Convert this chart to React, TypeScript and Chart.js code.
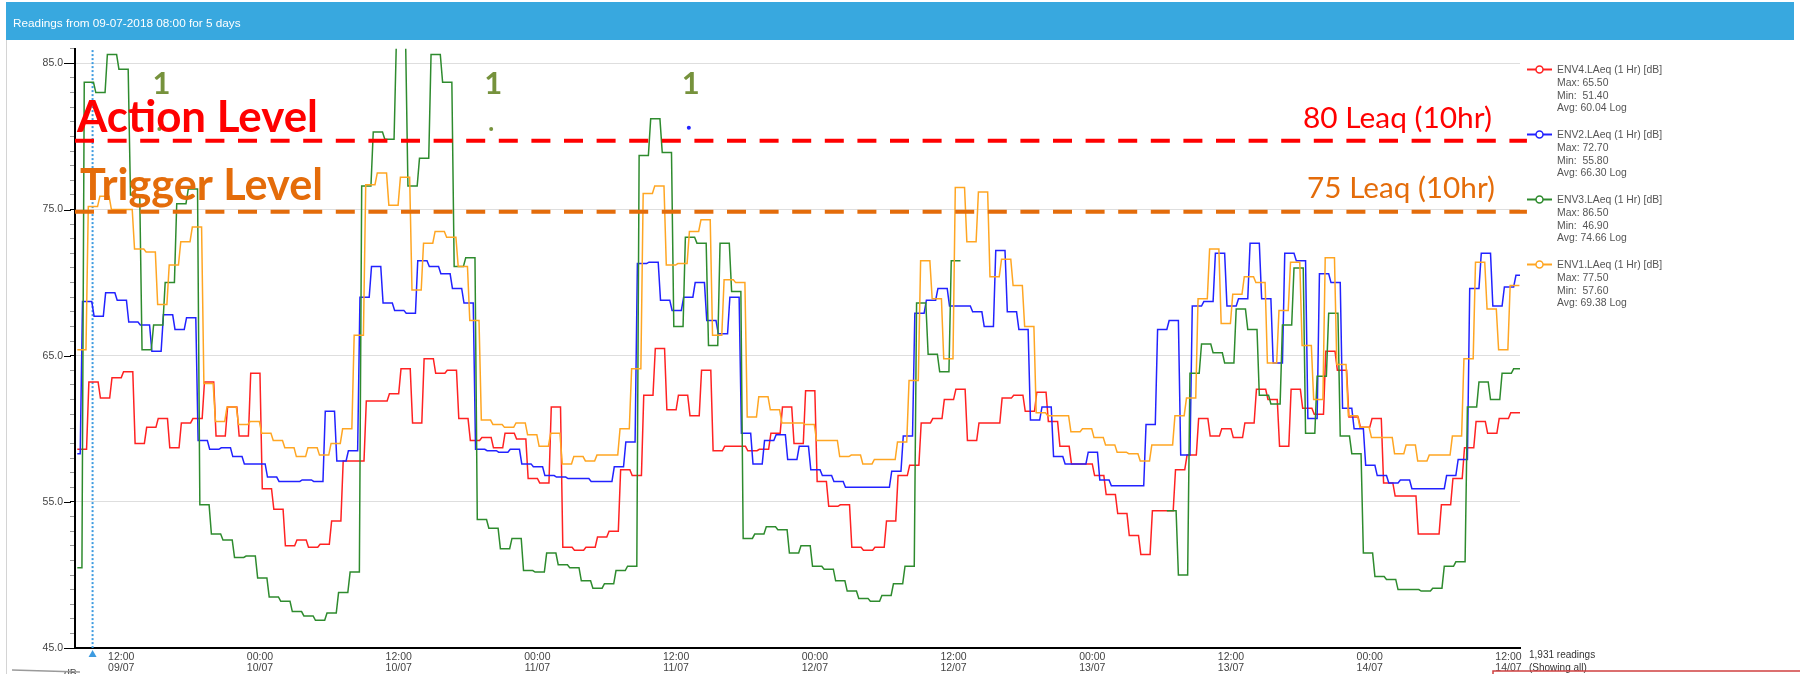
import React, { useEffect, useRef } from 'react';
import { Chart, registerables } from 'chart.js';

Chart.register(...registerables);

// ---------------- DATA ----------------
const titleText = 'Readings from 09-07-2018 08:00 for 5 days';

// hours since 09/07 08:00
const xTickHours = [4, 16, 28, 40, 52, 64, 76, 88, 100, 112, 124];
const xTickTimes = ['12:00', '00:00', '12:00', '00:00', '12:00', '00:00', '12:00', '00:00', '12:00', '00:00', '12:00'];
const xTickDates = ['09/07', '10/07', '10/07', '11/07', '11/07', '12/07', '12/07', '13/07', '13/07', '14/07', '14/07'];
const yMajorTicks = [45, 55, 65, 75, 85];

// ENV4 (red) hourly LAeq from hour 0
const env4Values = [
  58.6, 63.2, 62.1, 63.5, 63.9, 59.0, 60.1, 60.7, 58.7, 60.4, 60.7, 63.2, 59.5, 61.5, 59.5, 63.8, 55.9, 54.5, 52.0, 52.4,
  51.9, 52.1, 53.7, 57.8, 57.8, 61.9, 61.9, 62.4, 64.1, 60.4, 64.8, 63.8, 64.0, 60.7, 59.2, 59.4, 58.7, 59.7, 59.3, 56.6,
  56.3, 61.5, 51.9, 51.7, 51.9, 52.6, 53.0, 57.2, 56.8, 62.3, 65.5, 61.3, 62.3, 60.9, 64.0, 58.5, 58.8, 58.8, 58.5, 58.6,
  59.7, 61.5, 59.0, 62.6, 56.4, 54.7, 54.8, 51.9, 51.7, 51.9, 53.7, 56.8, 57.5, 60.4, 60.7, 62.0, 62.7, 59.2, 60.4, 60.4,
  62.1, 62.3, 61.2, 62.5, 60.5, 58.8, 57.6, 57.6, 56.8, 55.5, 54.2, 52.7, 51.4, 54.4, 54.4, 57.2, 58.2, 60.7, 59.5, 60.0,
  59.4, 60.4, 62.7, 62.0, 58.8, 62.7, 61.4, 61.0, 65.3, 64.0, 60.8, 60.1, 60.7, 56.3, 55.4, 55.4, 52.8, 52.8, 54.8, 56.6,
  58.7, 60.5, 59.7, 60.7, 61.1,
];

// ENV2 (blue)
const env2Values = [
  58.3, 68.7, 67.7, 69.3, 68.8, 67.3, 67.1, 65.3, 67.8, 66.8, 67.6, 59.2, 58.6, 58.7, 58.1, 57.6, 57.6, 56.7, 56.4, 56.4,
  56.5, 56.4, 61.2, 57.8, 58.5, 69.0, 71.1, 68.6, 68.1, 67.9, 71.5, 71.1, 70.6, 69.6, 68.6, 58.6, 58.5, 58.4, 58.6, 57.6,
  57.4, 56.8, 56.7, 56.6, 56.6, 56.4, 56.4, 57.4, 59.1, 71.3, 71.4, 68.8, 68.1, 69.0, 70.0, 67.4, 66.5, 69.0, 59.7, 57.6,
  59.2, 59.6, 57.9, 58.8, 57.2, 56.8, 56.4, 56.0, 56.0, 56.0, 56.0, 57.1, 59.5, 67.9, 68.8, 69.6, 68.4, 68.4, 68.0, 67.0,
  72.2, 68.0, 66.8, 60.6, 61.5, 58.1, 57.6, 57.6, 58.4, 56.5, 56.1, 56.1, 56.1, 60.3, 66.8, 67.4, 58.2, 68.4, 68.7, 72.0,
  68.4, 68.9, 72.7, 68.9, 64.5, 72.0, 71.5, 60.7, 70.6, 70.0, 61.4, 60.0, 57.5, 56.8, 56.3, 56.5, 55.9, 55.9, 55.9, 56.8,
  57.9, 69.6, 72.0, 68.4, 69.7, 70.5,
];

// ENV3 (green) first run, from hour 0
const env3FirstValues = [
  50.5, 83.7, 83.0, 85.6, 84.6, 76.0, 65.4, 67.1, 70.0, 75.4, 76.4, 54.8, 52.8, 52.4, 51.2, 51.3, 49.8, 48.5, 48.2, 47.5,
  47.2, 46.9, 47.4, 48.8, 50.2, 76.6, 80.3, 79.8, 86.5, 76.6, 78.5, 85.6, 83.7, 71.1, 71.7, 53.8, 53.2, 51.8, 52.5, 50.3,
  50.2, 51.5, 50.7, 50.5, 49.6, 49.1, 49.4, 50.3, 50.6, 78.7, 81.2, 78.9, 67.0, 73.1, 72.7, 65.7, 72.7, 69.4, 52.5, 52.8,
  53.3, 53.1, 51.5, 52.0, 50.6, 50.4, 49.6, 48.9, 48.4, 48.2, 48.6, 49.4, 50.6, 68.6, 65.1, 63.9, 71.5,
];
// ENV3 (green) second run, from hour 94
const env3SecondStartHour = 94;
const env3SecondValues = [
  54.4, 50.0, 63.8, 65.8, 65.2, 64.5, 68.2, 66.8, 62.3, 61.7, 67.1, 71.0, 59.7, 63.6, 67.9, 59.5, 58.3, 51.5, 49.9, 49.7,
  49.0, 49.0, 48.9, 49.1, 50.6, 50.9, 61.5, 63.2, 62.0, 63.8, 64.1,
];

// ENV1 (orange)
const env1Values = [
  65.4, 75.2, 75.9, 75.0, 75.0, 72.3, 72.1, 68.5, 71.2, 72.8, 73.8, 63.1, 60.5, 61.5, 60.3, 60.5, 59.7, 59.2, 58.7, 58.1,
  58.7, 58.2, 59.0, 60.0, 66.4, 76.7, 77.5, 75.3, 77.2, 69.5, 72.7, 73.5, 73.1, 71.1, 67.4, 60.6, 60.3, 60.1, 60.4, 59.6,
  58.8, 59.7, 57.6, 58.1, 57.8, 58.2, 58.2, 60.0, 64.1, 76.1, 76.6, 71.2, 71.3, 73.5, 74.3, 66.4, 70.2, 70.0, 60.8, 62.2,
  61.3, 60.4, 60.4, 60.3, 59.2, 59.2, 58.1, 58.2, 57.6, 57.9, 57.9, 59.1, 63.3, 71.5, 68.9, 64.8, 76.5, 72.8, 76.2, 70.4,
  71.6, 69.8, 67.0, 61.1, 60.9, 60.9, 59.8, 60.0, 59.4, 58.9, 58.4, 58.3, 57.8, 58.9, 58.9, 60.9, 62.1, 68.9, 72.3, 67.2,
  69.2, 70.4, 70.0, 64.5, 68.1, 71.4, 65.7, 62.0, 71.7, 64.4, 60.9, 60.1, 59.4, 59.4, 58.3, 58.9, 57.8, 58.2, 58.2, 59.5,
  64.8, 71.4, 68.2, 65.4, 69.8,
];

// Level lines (as drawn) and their labels
const actionLineDb = 79.7;
const triggerLineDb = 74.85;
const levelLineEndHour = 125.6;

// annotation markers
const markerHours = [7.3, 36.0, 53.1];
const markerValues = [80.5, 80.5, 80.6];
const markerLabelValue = 83.6;
const cursorHour = 1.52;

// legend
const legendNames = ['ENV4.LAeq (1 Hr) [dB]', 'ENV2.LAeq (1 Hr) [dB]', 'ENV3.LAeq (1 Hr) [dB]', 'ENV1.LAeq (1 Hr) [dB]'];
const legendMax = ['65.50', '72.70', '86.50', '77.50'];
const legendMin = ['51.40', '55.80', '46.90', '57.60'];
const legendAvg = ['60.04', '66.30', '74.66', '69.38'];

// ---------------- STYLE ----------------
const RED = '#ff2222';
const BLUE = '#2222ff';
const GREEN = '#2e8b2e';
const ORANGE = '#ffa623';
const legendColors = [RED, BLUE, GREEN, ORANGE];
const ACTION_RED = '#ff0000';
const TRIGGER_ORANGE = '#e46c0a';
const OLIVE = '#76923c';
const dataStartHour = 0.2;

function stepPoints(values: (number | null)[], firstHour: number, phase: number) {
  const pts: { x: number; y: number | null }[] = [];
  values.forEach((v, i) => {
    const k = firstHour + i;
    if (v === null) {
      pts.push({ x: k + phase, y: null });
      return;
    }
    pts.push({ x: Math.max(dataStartHour, k + phase), y: v });
    const next = values[i + 1];
    if (next !== null) pts.push({ x: k + phase + 0.8, y: v });
  });
  return pts;
}

function fitFont(ctx: CanvasRenderingContext2D, text: string, weight: string, family: string, target: number) {
  ctx.font = `${weight} 100px ${family}`;
  const w = ctx.measureText(text).width;
  return `${weight} ${(100 * target) / w}px ${family}`;
}

const overlayPlugin = {
  id: 'overlay',
  beforeDraw(chart: any) {
    const ctx = chart.ctx as CanvasRenderingContext2D;
    ctx.save();
    ctx.fillStyle = '#ffffff';
    ctx.fillRect(0, 0, 1800, 674);
    ctx.fillStyle = '#38a8df';
    ctx.fillRect(6, 2, 1788, 38);
    ctx.strokeStyle = '#d4d4d4';
    ctx.lineWidth = 1;
    ctx.beginPath();
    ctx.moveTo(6.5, 40);
    ctx.lineTo(6.5, 674);
    ctx.stroke();
    ctx.fillStyle = '#ffffff';
    ctx.textBaseline = 'alphabetic';
    ctx.textAlign = 'left';
    ctx.font = fitFont(ctx, titleText, 'normal', '"Liberation Sans", Arial, sans-serif', 228);
    ctx.fillText(titleText, 13, 27);
    ctx.restore();
  },
  afterDatasetsDraw(chart: any) {
    const ctx = chart.ctx as CanvasRenderingContext2D;
    const xs = chart.scales.x;
    const ys = chart.scales.y;
    ctx.save();
    ctx.textBaseline = 'alphabetic';
    const fam = 'Lato, "Open Sans", sans-serif';
    ctx.textAlign = 'left';
    ctx.fillStyle = ACTION_RED;
    ctx.font = fitFont(ctx, 'Action Level', 'bold', fam, 241);
    ctx.fillText('Action Level', 77, 132);
    ctx.fillStyle = TRIGGER_ORANGE;
    ctx.font = fitFont(ctx, 'Trigger Level', 'bold', fam, 243);
    ctx.fillText('Trigger Level', 80, 200);
    ctx.textAlign = 'right';
    ctx.fillStyle = ACTION_RED;
    ctx.font = fitFont(ctx, '80 Leaq (10hr)', 'normal', fam, 189);
    ctx.fillText('80 Leaq (10hr)', 1492, 128);
    ctx.fillStyle = TRIGGER_ORANGE;
    ctx.font = fitFont(ctx, '75 Leaq (10hr)', 'normal', fam, 188);
    ctx.fillText('75 Leaq (10hr)', 1495, 198);
    // "1" markers
    ctx.textAlign = 'center';
    ctx.textBaseline = 'middle';
    ctx.fillStyle = OLIVE;
    ctx.font = 'bold 31px Lato, sans-serif';
    markerHours.forEach((h) => {
      ctx.fillText('1', xs.getPixelForValue(h) + 2, ys.getPixelForValue(markerLabelValue));
    });
    ctx.restore();
  },
  afterDraw(chart: any) {
    const ctx = chart.ctx as CanvasRenderingContext2D;
    const xs = chart.scales.x;
    const ys = chart.scales.y;
    const area = chart.chartArea;
    ctx.save();
    // long major ticks
    ctx.strokeStyle = '#000';
    ctx.lineWidth = 1;
    yMajorTicks.forEach((v) => {
      const y = Math.round(ys.getPixelForValue(v)) + 0.5;
      ctx.beginPath();
      ctx.moveTo(64, y);
      ctx.lineTo(area.left - 4, y);
      ctx.stroke();
    });
    // cursor triangle
    const cx = xs.getPixelForValue(cursorHour);
    ctx.fillStyle = '#3d9be0';
    ctx.beginPath();
    ctx.moveTo(cx, area.bottom + 2);
    ctx.lineTo(cx - 4, area.bottom + 9);
    ctx.lineTo(cx + 4, area.bottom + 9);
    ctx.closePath();
    ctx.fill();
    // legend
    const lf = '"Liberation Sans", Arial, sans-serif';
    ctx.textAlign = 'left';
    ctx.textBaseline = 'alphabetic';
    legendNames.forEach((name, i) => {
      const base = 73 + i * 65;
      const col = legendColors[i];
      ctx.strokeStyle = col;
      ctx.lineWidth = 2;
      ctx.beginPath();
      ctx.moveTo(1527, base - 3.5);
      ctx.lineTo(1552, base - 3.5);
      ctx.stroke();
      ctx.fillStyle = '#fff';
      ctx.lineWidth = 1.5;
      ctx.beginPath();
      ctx.arc(1539.5, base - 3.5, 3.5, 0, Math.PI * 2);
      ctx.fill();
      ctx.stroke();
      ctx.fillStyle = '#555';
      ctx.font = `10.4px ${lf}`;
      ctx.fillText(name, 1557, base);
      ctx.fillText(`Max: ${legendMax[i]}`, 1557, base + 12.8);
      ctx.fillText(`Min:  ${legendMin[i]}`, 1557, base + 25.6);
      ctx.fillText(`Avg: ${legendAvg[i]} Log`, 1557, base + 38.4);
    });
    // readings text
    ctx.fillStyle = '#333';
    ctx.font = `10px ${lf}`;
    ctx.fillText('1,931 readings', 1529, 658);
    ctx.fillText('(Showing all)', 1529, 671);
    ctx.fillStyle = '#444';
    ctx.font = `10.5px ${lf}`;
    ctx.fillText('dB', 64, 677);
    // bottom decorations
    ctx.strokeStyle = '#9a9a9a';
    ctx.lineWidth = 1.5;
    ctx.beginPath();
    ctx.moveTo(12, 670);
    ctx.lineTo(80, 672);
    ctx.stroke();
    ctx.strokeStyle = '#d04040';
    ctx.lineWidth = 1.5;
    ctx.beginPath();
    ctx.moveTo(1493, 674);
    ctx.lineTo(1493, 671);
    ctx.lineTo(1800, 671);
    ctx.stroke();
    ctx.restore();
  },
};

export default function App() {
  const canvasRef = useRef<HTMLCanvasElement | null>(null);

  useEffect(() => {
    const canvas = canvasRef.current;
    if (!canvas) return;
    const lineBase = {
      type: 'line',
      pointRadius: 0,
      borderWidth: 1.5,
      tension: 0,
      fill: false,
      spanGaps: false,
    };
    const datasets: any[] = [
      {
        ...lineBase,
        label: 'Action',
        data: [{ x: 0, y: actionLineDb }, { x: levelLineEndHour, y: actionLineDb }],
        borderColor: ACTION_RED,
        borderWidth: 4,
        borderDash: [19, 13.6],
        clip: false,
      },
      {
        ...lineBase,
        label: 'Trigger',
        data: [{ x: 0, y: triggerLineDb }, { x: levelLineEndHour, y: triggerLineDb }],
        borderColor: TRIGGER_ORANGE,
        borderWidth: 4,
        borderDash: [19, 13.6],
        clip: false,
      },
      { ...lineBase, label: 'ENV1', data: stepPoints(env1Values, 0, 0.15), borderColor: ORANGE },
      { ...lineBase, label: 'ENV3', data: stepPoints(env3FirstValues, 0, -0.2), borderColor: GREEN },
      { ...lineBase, label: 'ENV3b', data: stepPoints(env3SecondValues, env3SecondStartHour, 0.45), borderColor: GREEN },
      { ...lineBase, label: 'ENV2', data: stepPoints(env2Values, 0, -0.35), borderColor: BLUE },
      { ...lineBase, label: 'ENV4', data: stepPoints(env4Values, 0, 0.2), borderColor: RED },
      {
        ...lineBase,
        label: 'markers',
        showLine: false,
        data: markerHours.map((h, i) => ({ x: h, y: markerValues[i] })),
        pointRadius: 2,
        pointBorderWidth: 0,
        pointBackgroundColor: [OLIVE, OLIVE, BLUE],
        borderColor: OLIVE,
      },
      {
        ...lineBase,
        label: 'cursor',
        data: [{ x: cursorHour, y: 45 }, { x: cursorHour, y: 86 }],
        borderColor: '#3d9be0',
        borderWidth: 2,
        borderDash: [2, 2],
      },
    ];

    const tickFont = { family: '"Liberation Sans", Arial, sans-serif', size: 10.5 };

    const chart = new Chart(canvas, {
      type: 'line',
      data: { datasets },
      options: {
        animation: false,
        responsive: false,
        maintainAspectRatio: false,
        devicePixelRatio: 1,
        layout: { padding: { left: 0, right: 280, top: 48.7, bottom: 0 } },
        plugins: { legend: { display: false }, tooltip: { enabled: false } },
        scales: {
          x: {
            type: 'linear',
            min: 0,
            max: 125,
            afterFit: (s: any) => {
              s.height = 25.9;
            },
            afterBuildTicks: (s: any) => {
              s.ticks = xTickHours.map((v) => ({ value: v }));
            },
            ticks: {
              autoSkip: false,
              maxRotation: 0,
              padding: 3,
              color: '#444',
              font: { ...tickFont, lineHeight: 1.1 },
              callback: (_v: any, i: number) => [xTickTimes[i], xTickDates[i]],
            },
            grid: { display: false, drawTicks: false },
            border: { display: true, color: '#000', width: 2 },
          },
          y: {
            type: 'linear',
            min: 45,
            max: 86,
            afterFit: (s: any) => {
              s.width = 75;
            },
            ticks: {
              stepSize: 1,
              autoSkip: false,
              padding: 7,
              color: '#444',
              font: tickFont,
              callback: (v: any) => (yMajorTicks.includes(Number(v)) ? Number(v).toFixed(1) : ''),
            },
            grid: {
              drawTicks: true,
              tickLength: 5,
              lineWidth: 1,
              color: (c: any) => (c.tick && yMajorTicks.includes(c.tick.value) ? '#dedede' : 'rgba(0,0,0,0)'),
              tickColor: (c: any) => (c.tick && yMajorTicks.includes(c.tick.value) ? '#000' : '#999'),
            },
            border: { display: true, color: '#000', width: 2 },
          },
        },
      } as any,
      plugins: [overlayPlugin as any],
    });
    return () => chart.destroy();
  }, []);

  return (
    <div style={{ position: 'fixed', left: 0, top: 0, width: 1800, height: 674, background: '#fff' }}>
      <canvas ref={canvasRef} width={1800} height={674} style={{ width: 1800, height: 674, display: 'block' }} />
    </div>
  );
}
